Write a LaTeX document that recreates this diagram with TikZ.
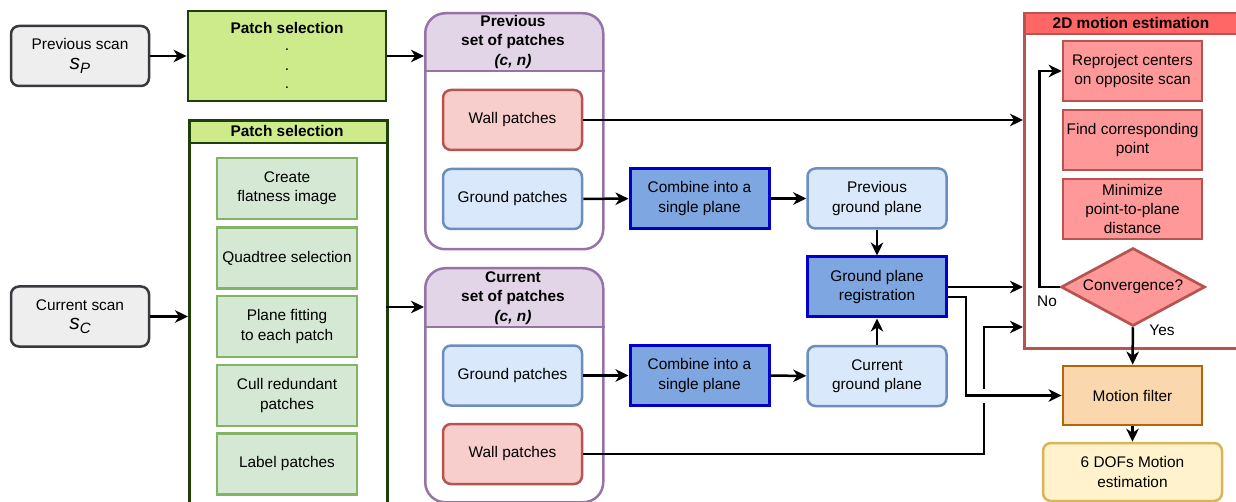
\documentclass[tikz,border=0pt]{standalone}
\usepackage{fontspec}
\setmainfont{Liberation Sans}
\usetikzlibrary{arrows.meta,shapes.geometric}

\definecolor{scanfill}{HTML}{EEEEEE}
\definecolor{scanline}{HTML}{36393D}
\definecolor{selfill}{HTML}{CDEB8B}
\definecolor{selline}{HTML}{1E3F0A}
\definecolor{grnfill}{HTML}{D5E8D4}
\definecolor{grnline}{HTML}{82B366}
\definecolor{setfill}{HTML}{E1D5E7}
\definecolor{setline}{HTML}{9673A6}
\definecolor{wallfill}{HTML}{F8CECC}
\definecolor{wallline}{HTML}{B85450}
\definecolor{gndfill}{HTML}{DAE8FC}
\definecolor{gndline}{HTML}{6C8EBF}
\definecolor{combfill}{HTML}{7EA6E0}
\definecolor{combline}{HTML}{0000CC}
\definecolor{mothead}{HTML}{FF6666}
\definecolor{redfill}{HTML}{FF9999}
\definecolor{filtfill}{HTML}{FAD7AC}
\definecolor{filtline}{HTML}{B46504}
\definecolor{doffill}{HTML}{FFF2CC}
\definecolor{dofline}{HTML}{D6B656}

\newcommand\lbl{\fontsize{15.4}{19.3}\selectfont}
\newcommand\scanvar[1]{{\itshape\fontsize{21}{19.3}\selectfont s\raisebox{-4pt}{\fontsize{15}{15}\selectfont #1}}}

\tikzset{
  base/.style={align=center, inner sep=0pt, font=\lbl},
  scanbox/.style={base, draw=scanline, fill=scanfill, line width=2.5pt, rounded corners=8pt, minimum width=138, minimum height=60},
  selbox/.style={base, draw=selline, fill=selfill, line width=2.9pt},
  stepgreen/.style={base, draw=grnline, fill=grnfill, line width=2.5pt, minimum width=140, minimum height=61},
  setbox/.style={base, draw=setline, fill=white, line width=2.5pt, rounded corners=20pt, minimum width=178,
    path picture={\fill[setfill, sharp corners] (path picture bounding box.north west) rectangle ([yshift=-#1]path picture bounding box.north east);}},
  wallbox/.style={base, draw=wallline, fill=wallfill, line width=2.5pt, rounded corners=8pt, minimum width=139, minimum height=60},
  gndbox/.style={base, draw=gndline, fill=gndfill, line width=2.5pt, rounded corners=8pt, minimum width=139, minimum height=60},
  combbox/.style={base, draw=combline, fill=combfill, line width=3pt, minimum width=139, minimum height=60},
  stepred/.style={base, draw=wallline, fill=redfill, line width=2.7pt, minimum width=139, minimum height=60},
  flow/.style={line width=2.5pt, -{Stealth[length=13pt,width=12.5pt,inset=4pt]}}
}

\begin{document}
\begin{tikzpicture}[x=1pt,y=-1pt]
\useasboundingbox (0,0) rectangle (1236,502);

%%%%% scans and patch selection
\node[scanbox] (prevscan) at (80,56) {Previous scan\\\scanvar{P}};
\node[scanbox] (curscan) at (80,316.5) {Current scan\\\scanvar{C}};

\node[selbox, minimum width=198, minimum height=90] (psprev) at (287,56) {};
\node[base, font=\lbl\bfseries] (psprevtitle) at (287,28) {Patch selection};
\foreach \y in {50,70,88}
  \node[base] (dot\y) at (287,\y) {.};

\node[selbox, fill=white, anchor=north west, minimum width=198, minimum height=392,
  path picture={\fill[selfill] (path picture bounding box.north west) rectangle ([yshift=-24pt]path picture bounding box.north east);}] (pscur) at (188,119) {};
\draw[selline, line width=2.9pt] ([yshift=-24pt]pscur.north west) -- ([yshift=-24pt]pscur.north east);
\node[base, font=\lbl\bfseries] (pscurtitle) at (287,131) {Patch selection};

\foreach \y/\txt [count=\i] in {188.5/{Create\\flatness image}, 258/{Quadtree selection},
    326.5/{Plane fitting\\to each patch}, 395.5/{Cull redundant\\patches}, 464/{Label patches}}
  \node[stepgreen] (sel\i) at (287,\y) {\txt};

%%%%% sets of patches
\node[setbox=59pt, anchor=north west, minimum height=236] (prevset) at (424,12) {};
\draw[setline, line width=2.5pt] ([yshift=-59pt]prevset.north west) -- ([yshift=-59pt]prevset.north east);
\node[base, font=\lbl\bfseries] (prevsettitle) at (513,42) {Previous\\set of patches\\\textit{(c, n)}};
\node[wallbox] (wallP) at (512.5,120) {Wall patches};
\node[gndbox] (gndP) at (512.5,199) {Ground patches};

\node[setbox=60pt, anchor=north west, minimum height=234] (curset) at (424,267) {};
\draw[setline, line width=2.5pt] ([yshift=-60pt]curset.north west) -- ([yshift=-60pt]curset.north east);
\node[base, font=\lbl\bfseries] (cursettitle) at (513,298) {Current\\set of patches\\\textit{(c, n)}};
\node[gndbox] (gndC) at (512.5,375.5) {Ground patches};
\node[wallbox] (wallC) at (512.5,454) {Wall patches};

%%%%% ground planes
\node[combbox] (combP) at (699.5,198.5) {Combine into a\\single plane};
\node[combbox] (combC) at (699.5,375.5) {Combine into a\\single plane};
\node[gndbox] (prevgnd) at (877,198.5) {Previous\\ground plane};
\node[gndbox] (curgnd) at (877,376) {Current\\ground plane};
\node[combbox] (reg) at (877,287) {Ground plane\\registration};

%%%%% 2D motion estimation
\node[base, draw=wallline, fill=white, line width=2.5pt, anchor=north west, minimum width=216, minimum height=335,
  path picture={\fill[mothead] (path picture bounding box.north west) rectangle ([yshift=-22pt]path picture bounding box.north east);}] (motion) at (1023,12) {};
\draw[wallline, line width=2.5pt] ([yshift=-22pt]motion.north west) -- ([yshift=-22pt]motion.north east);
\node[base, font=\lbl\bfseries] (motiontitle) at (1131,23) {2D motion estimation};
\node[stepred] (repro) at (1132.5,71) {Reproject centers\\on opposite scan};
\node[stepred] (findc) at (1132.5,140) {Find corresponding\\point};
\node[stepred] (minim) at (1132.5,209) {Minimize\\point-to-plane\\distance};
\node[base, diamond, aspect=1.85, draw=wallline, fill=redfill, line width=2.7pt, minimum width=144, minimum height=78] (conv) at (1133,287) {Convergence?};
\node[base] (nolabel) at (1047,301) {No};
\node[base] (yeslabel) at (1162,330) {Yes};

\node[base, draw=filtline, fill=filtfill, line width=2.9pt, minimum width=139, minimum height=59] (filt) at (1132.5,395.5) {Motion filter};
\node[base, draw=dofline, fill=doffill, line width=2.5pt, rounded corners=8pt, minimum width=179, minimum height=58] (dof) at (1132.5,472) {6 DOFs Motion\\estimation};

%%%%% connectors
\draw[flow] (prevscan) -- (psprev);
\draw[flow] (curscan.east) -- (curscan.east -| pscur.west);
\draw[flow] (psprev.east) -- (psprev.east -| prevset.west);
\coordinate (pscurout) at (386,307);
\draw[flow] (pscurout) -- (pscurout -| curset.west);

\draw[flow] (wallP.east) -- (wallP.east -| motion.west);
\draw[flow] (gndP) -- (combP);
\draw[flow] (combP) -- (prevgnd);
\draw[flow] (gndC) -- (combC);
\draw[flow] (combC) -- (curgnd);
\draw[flow] (prevgnd) -- (reg);
\draw[flow] (curgnd) -- (reg);
\draw[flow] (reg.east) -- (reg.east -| motion.west);

\coordinate (wallbend) at (984,327);
\draw[flow] (wallC.east) -| (wallbend) -- (wallbend -| motion.west);
\draw[white, line width=4pt] (984,389) -- (984,403);
\draw[flow] ([yshift=-10pt]reg.east) -- ++(18,0) |- (filt.west);

\draw[flow] (conv.west) -- ++(-20,0) |- (repro.west);
\draw[flow] (conv) -- (filt);
\draw[flow] (filt) -- (dof);
\end{tikzpicture}
\end{document}
